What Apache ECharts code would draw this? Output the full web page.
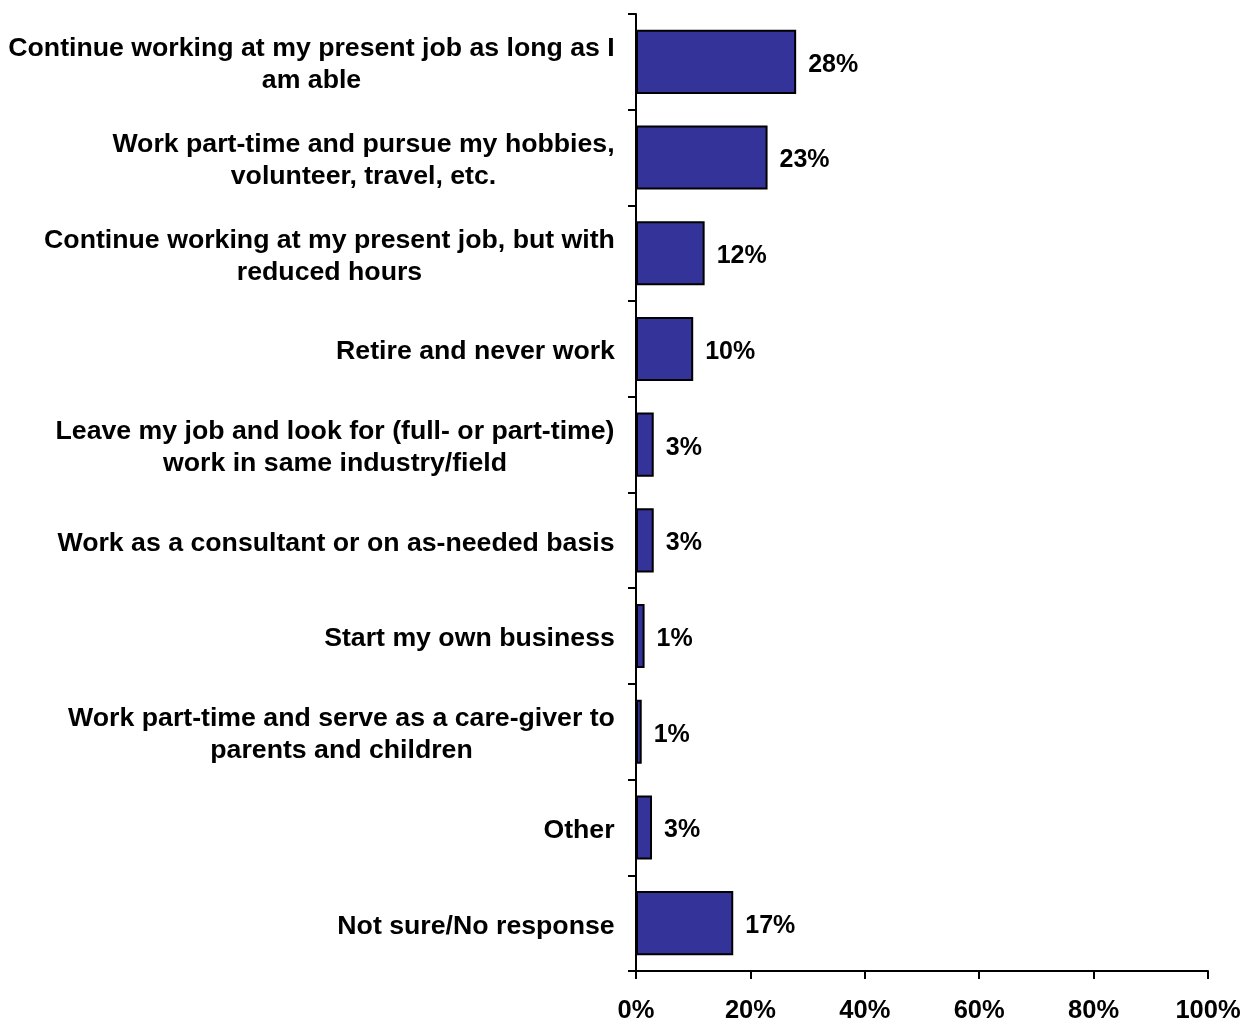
<!DOCTYPE html>
<html>
<head>
<meta charset="utf-8">
<script src="https://cdn.jsdelivr.net/npm/echarts@6/dist/echarts.min.js"></script>
<style>
html,body{margin:0;padding:0;background:#fff;}
#chart{width:1251px;height:1024px;}
</style>
</head>
<body>
<div id="chart"></div>
<script>
const categories = [
  "Continue working at my present job as long as I\nam able",
  "Work part-time and pursue my hobbies,\nvolunteer, travel, etc.",
  "Continue working at my present job, but with\nreduced hours",
  "Retire and never work",
  "Leave my job and look for (full- or part-time)\nwork in same industry/field",
  "Work as a consultant or on as-needed basis",
  "Start my own business",
  "Work part-time and serve as a care-giver to\nparents and children",
  "Other",
  "Not sure/No response"
];
const values = [28, 23, 12, 10, 3.1, 3.1, 1.5, 1.0, 2.8, 17];
const valueLabels = ["28%", "23%", "12%", "10%", "3%", "3%", "1%", "1%", "3%", "17%"];
const xTicks = [0, 20, 40, 60, 80, 100];

const FONT = '"Liberation Sans", Arial, sans-serif';
const FS = 26.7;
const ctx = document.createElement('canvas').getContext('2d');
ctx.font = 'bold ' + FS + 'px ' + FONT;
const rich = {};
categories.forEach((c, i) => {
  const w = Math.max(...c.split('\n').map(l => ctx.measureText(l).width));
  rich['r' + i] = {width: Math.ceil(w), align: 'center', fontSize: FS, fontWeight: 'bold', fontFamily: FONT, color: '#000', lineHeight: 32};
});

const chart = echarts.init(document.getElementById('chart'));
chart.setOption({
  animation: false,
  backgroundColor: '#fff',
  grid: {left: 636, right: 43, top: 14, bottom: 52, containLabel: false},
  xAxis: {
    type: 'value', min: 0, max: 100, interval: 20,
    axisLine: {show: true, lineStyle: {color: '#000', width: 2}},
    axisTick: {show: true, length: 8, lineStyle: {color: '#000', width: 2}},
    splitLine: {show: false},
    axisLabel: {
      margin: 27, fontSize: 25.5, fontWeight: 'bold', fontFamily: FONT, color: '#000',
      formatter: v => xTicks.includes(v) ? v + '%' : ''
    }
  },
  yAxis: {
    type: 'category', inverse: true, data: categories,
    axisLine: {show: true, lineStyle: {color: '#000', width: 2}},
    axisTick: {show: true, length: 8, lineStyle: {color: '#000', width: 2}},
    axisLabel: {
      margin: 21, align: 'right', fontSize: FS, fontWeight: 'bold', fontFamily: FONT, color: '#000', lineHeight: 32,
      padding: [6, 0, 0, 0],
      formatter: (v, i) => v.split('\n').map(l => '{r' + i + '|' + l + '}').join('\n'),
      rich: rich
    }
  },
  series: [{
    type: 'bar',
    data: values,
    barCategoryGap: '33%',
    itemStyle: {color: '#333399', borderColor: '#000', borderWidth: 2},
    label: {
      show: true, position: 'right', distance: 12, offset: [0, 3],
      fontSize: 25, fontWeight: 'bold', fontFamily: FONT, color: '#000',
      formatter: p => valueLabels[p.dataIndex]
    }
  }]
});
</script>
</body>
</html>
